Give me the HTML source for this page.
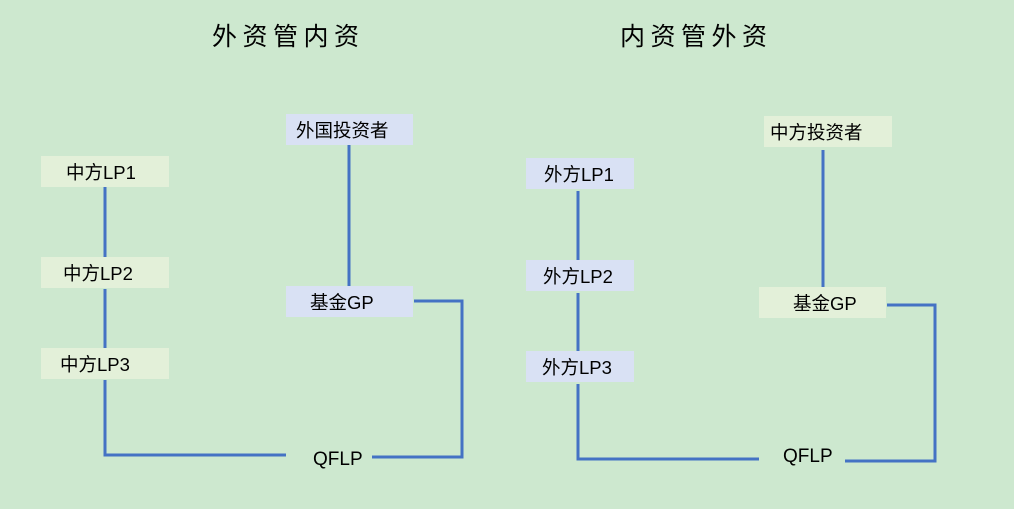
<!DOCTYPE html>
<html><head><meta charset="utf-8"><style>
body{margin:0;width:1014px;height:509px;background:#cde8cf;overflow:hidden;position:relative;font-family:"Liberation Sans","Noto Sans CJK SC",sans-serif;color:#000}
.t{position:absolute;font-size:25px;letter-spacing:5.5px;white-space:nowrap}
.b{position:absolute;height:31px;line-height:34px;font-size:18.5px;white-space:nowrap;box-sizing:border-box}
.g{background:#e3f0d9}.u{background:#d9e1f4}
.q{position:absolute;font-size:19px}
svg{position:absolute;left:0;top:0}
</style></head><body>
<svg width="1014" height="509"><g stroke="#4472c4" stroke-width="3" fill="none">
<path d="M105 187V257M105 289V348M105 380V455H286"/>
<path d="M349 145V286"/>
<path d="M414 301H462V457H372"/>
<path d="M578 191V260M578 293V351M578 384V459H759"/>
<path d="M823 150V287"/>
<path d="M887 305H935V461H845"/>
</g></svg>
<div class="t" style="left:212px;top:17px">外资管内资</div>
<div class="t" style="left:620px;top:17px">内资管外资</div>
<div class="b u" style="left:286px;top:114px;width:127px;padding-left:10px">外国投资者</div>
<div class="b g" style="left:41px;top:156px;width:128px;padding-left:25px">中方LP1</div>
<div class="b g" style="left:41px;top:257px;width:128px;padding-left:22px">中方LP2</div>
<div class="b g" style="left:41px;top:348px;width:128px;padding-left:19px">中方LP3</div>
<div class="b u" style="left:286px;top:286px;width:127px;padding-left:24px">基金GP</div>
<div class="q" style="left:313px;top:449px">QFLP</div>
<div class="b g" style="left:764px;top:116px;width:128px;padding-left:6px">中方投资者</div>
<div class="b u" style="left:526px;top:158px;width:108px;padding-left:18px">外方LP1</div>
<div class="b u" style="left:526px;top:260px;width:108px;padding-left:17px">外方LP2</div>
<div class="b u" style="left:526px;top:351px;width:108px;padding-left:16px">外方LP3</div>
<div class="b g" style="left:759px;top:287px;width:127px;padding-left:34px">基金GP</div>
<div class="q" style="left:783px;top:446px">QFLP</div>
</body></html>
